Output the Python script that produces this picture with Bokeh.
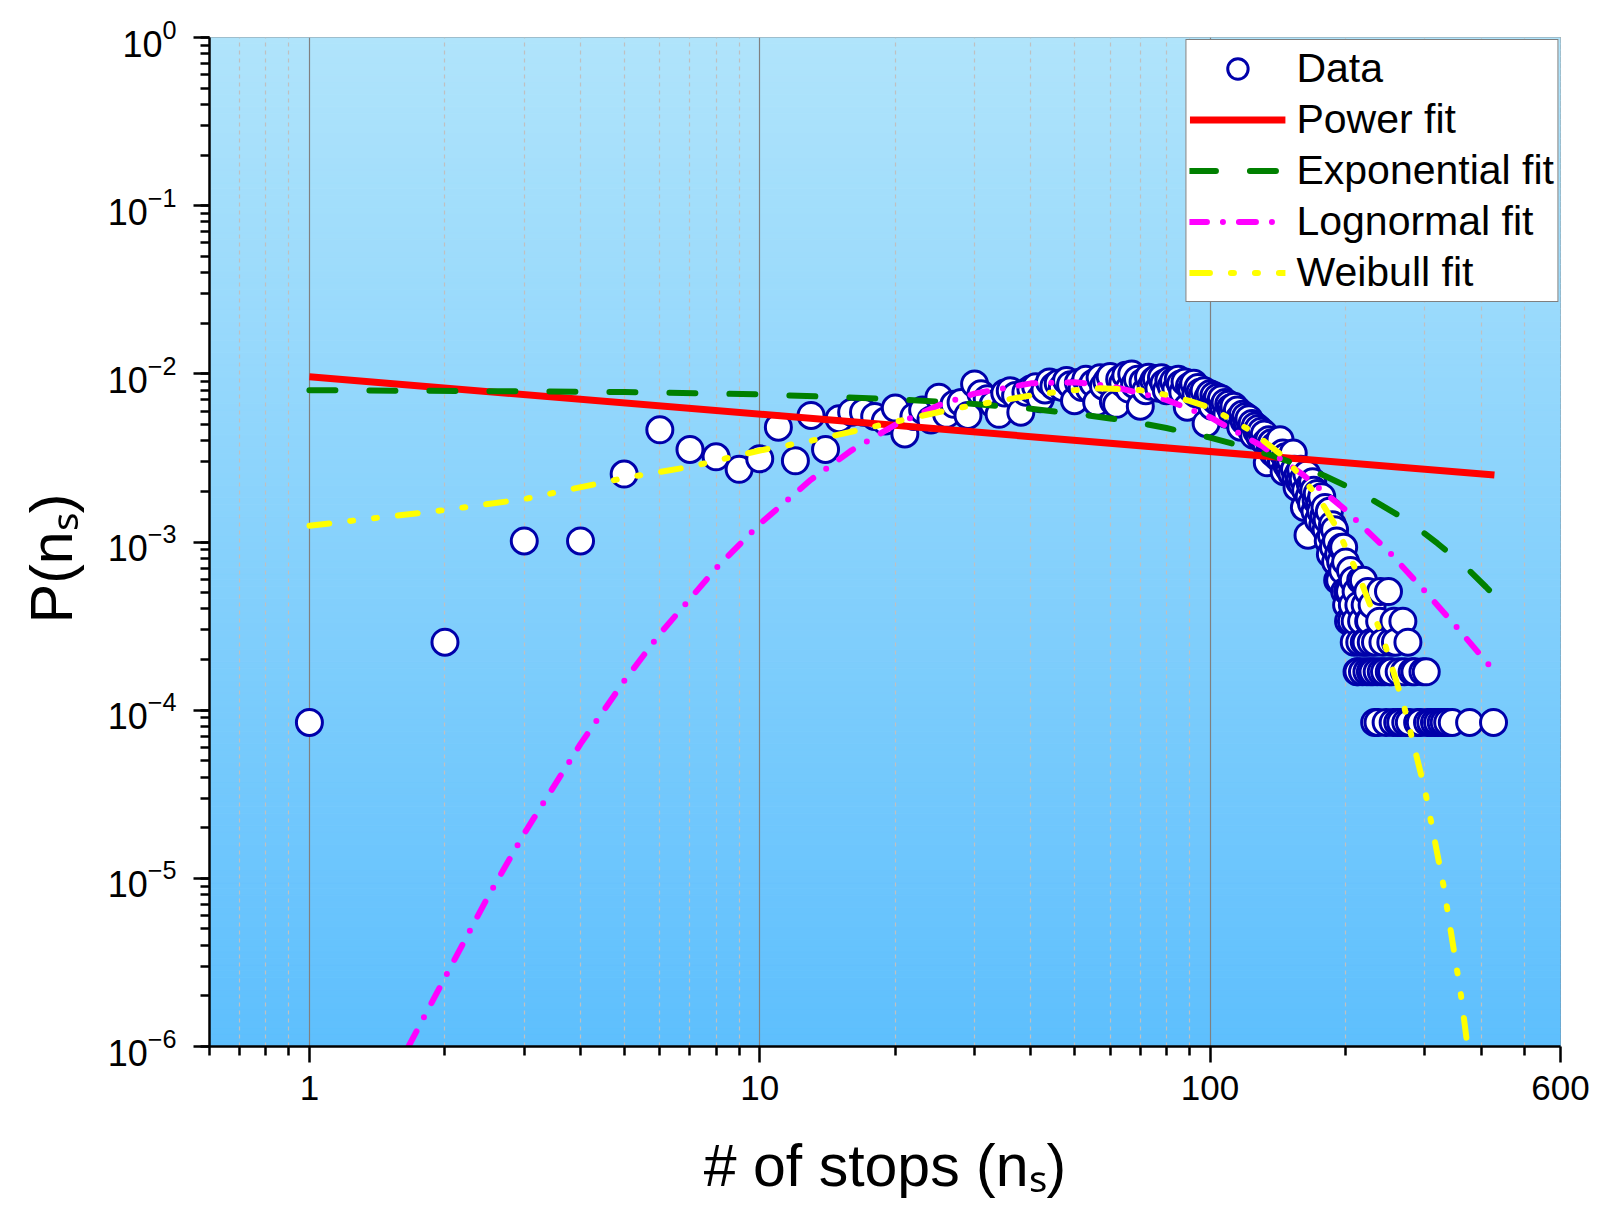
import numpy as np
from bokeh.plotting import figure
from bokeh.models import FixedTicker, LogTicker, Legend, BasicTickFormatter
from bokeh.embed import file_html
from bokeh.resources import INLINE

# ---------------- data ----------------
N_TOTAL = 11834  # one count = 8.45e-5

stops_head = list(range(1, 201))
counts_head = [
    1, 3, 12, 12, 30, 55, 42, 38, 32, 37,
    57, 36, 67, 42, 64, 70, 70, 66, 62, 74,
    52, 66, 72, 63, 86, 68, 78, 80, 67, 103,
    90, 84, 78, 68, 91, 94, 88, 70, 92, 96,
    99, 84, 95, 106, 100, 104, 98, 108, 102, 82,
    105, 98, 110, 96, 104, 80, 112, 100, 107, 114,
    81, 78, 110, 104, 116, 96, 118, 102, 110, 76,
    106, 94, 113, 100, 108, 111, 97, 112, 104, 94,
    108, 100, 107, 96, 110, 103, 92, 106, 75, 100,
    96, 104, 90, 98, 92, 88, 94, 60, 86, 90,
    76, 88, 82, 86, 78, 84, 76, 80, 68, 78,
    74, 70, 76, 66, 72, 64, 57, 68, 62, 66,
    60, 64, 56, 60, 51, 58, 54, 56, 50, 54,
    48, 52, 46, 35, 48, 44, 46, 40, 44, 42,
    38, 42, 48, 36, 40, 31, 38, 34, 36, 32,
    36, 30, 40, 32, 28, 25, 30, 27, 32, 26,
    28, 19, 24, 30, 13, 22, 26, 20, 27, 24,
    18, 21, 23, 16, 20, 18, 22, 15, 17, 19,
    14, 16, 12, 18, 10, 13, 15, 11, 14, 9,
    12, 7, 10, 7, 9, 11, 8, 11, 6, 9,
]
stops_tail = [201, 202, 203, 204, 205, 206, 207, 208, 209, 210,
              211, 212, 213, 214, 215, 216, 217, 218, 219, 220,
              221, 222, 223, 224, 225, 226, 227, 228, 229, 230,
              232, 233, 235, 236, 238, 239, 240, 242, 244, 246,
              249, 250, 252, 253, 255, 256, 258, 261, 263, 265,
              268, 270, 272, 275, 277, 281, 285, 289, 293, 297,
              302, 304, 309, 315, 320, 326, 331, 337, 345, 377,
              426]
counts_tail = [5, 6, 4, 6, 8, 4, 5, 7, 3, 4,
               6, 2, 2, 5, 3, 7, 4, 2, 7, 3,
               5, 3, 2, 6, 4, 4, 2, 3, 5, 2,
               1, 3, 2, 1, 4, 6, 2, 3, 2, 1,
               6, 2, 3, 2, 1, 4, 3, 1, 2, 1,
               4, 2, 1, 3, 1, 2, 2, 1, 1, 2,
               2, 1, 1, 1, 1, 1, 1, 1, 1, 1,
               1]

power_x = [1, 428]
power_y = [9.6e-3, 2.5e-3]

exp_x = [1, 5, 10, 20, 30, 40, 50, 60, 70, 80, 100, 120, 140, 160, 180,
         200, 230, 260, 290, 320, 350, 380, 410, 428]
exp_y = [8.0e-3, 7.8e-3, 7.55e-3, 7.07e-3, 6.62e-3, 6.2e-3, 5.8e-3, 5.43e-3,
         5.09e-3, 4.76e-3, 4.18e-3, 3.66e-3, 3.21e-3, 2.82e-3, 2.47e-3,
         2.16e-3, 1.77e-3, 1.46e-3, 1.2e-3, 9.8e-4, 8.05e-4, 6.6e-4, 5.4e-4, 4.8e-4]

logn_x = [1.66, 2, 2.5, 3, 4, 5, 6, 8, 10, 13, 16, 20, 25, 30, 40, 50, 60,
          80, 100, 130, 160, 200, 250, 300, 350, 428]
logn_y = [1.0e-6, 2.57e-6, 7.9e-6, 1.85e-5, 6.3e-5, 1.49e-4, 2.84e-4, 6.97e-4,
          1.28e-3, 2.35e-3, 3.51e-3, 4.98e-3, 6.51e-3, 7.63e-3, 8.78e-3, 8.9e-3,
          8.48e-3, 7.0e-3, 5.52e-3, 3.74e-3, 2.54e-3, 1.55e-3, 8.7e-4, 5.1e-4,
          3.2e-4, 1.7e-4]

weib_x = [1, 2, 3, 5, 7, 10, 13, 17, 22, 27, 35, 42, 50, 57, 70, 80, 90, 100,
          123, 146, 174, 191, 216, 243, 270, 300, 330, 360, 373]
weib_y = [1.25e-3, 1.55e-3, 1.8e-3, 2.4e-3, 2.8e-3, 3.5e-3, 4.0e-3, 4.7e-3,
          5.5e-3, 6.2e-3, 7.0e-3, 7.6e-3, 8.0e-3, 8.2e-3, 8.0e-3, 7.5e-3, 6.9e-3,
          6.3e-3, 4.6e-3, 3.2e-3, 1.85e-3, 1.22e-3, 5.9e-4, 2.6e-4, 1.04e-4,
          3.35e-5, 9.0e-6, 2.1e-6, 1.0e-6]

x_major = [1, 10, 100, 600]
x_minor = [0.6, 0.7, 0.8, 0.9, 2, 3, 4, 5, 6, 7, 8, 9,
           20, 30, 40, 50, 60, 70, 80, 90, 200, 300, 400, 500]
X_RANGE = (0.6, 600)
Y_RANGE = (1e-6, 1)

# ---------------- figure ----------------
FONT = "Liberation Sans"
p = figure(x_axis_type="log", y_axis_type="log", x_range=X_RANGE, y_range=Y_RANGE,
           frame_width=1351, frame_height=1009,
           min_border_left=209, min_border_top=37, min_border_right=32, min_border_bottom=170,
           output_backend="svg", toolbar_location=None)
p.background_fill_color = "white"
p.border_fill_color = "white"
p.outline_line_color = "#808080"
p.outline_line_width = 1

# gradient background (decoration)
n_strips = 160
edges = np.logspace(np.log10(Y_RANGE[0]), np.log10(Y_RANGE[1]), n_strips + 1)
top_c = np.array([176, 228, 251])
bot_c = np.array([94, 191, 253])
tt = (np.arange(n_strips) + 0.5) / n_strips
cols = ["#%02x%02x%02x" % tuple(int(round(v)) for v in (bot_c + (top_c - bot_c) * t)) for t in tt]
p.quad(left=X_RANGE[0], right=X_RANGE[1], bottom=edges[:-1], top=edges[1:],
       fill_color=cols, line_color=cols, line_width=1, level="image")

# data
xs = stops_head + stops_tail
ps = [c / N_TOTAL for c in counts_head + counts_tail]
r_data = p.scatter(xs, ps, marker="circle", size=26, fill_color="white",
                   line_color="#0000AA", line_width=3)

r_pow = p.line(power_x, power_y, line_color="#FF0000", line_width=7)
r_exp = p.line(exp_x, exp_y, line_color="#008000", line_width=6,
               line_dash="26 34", line_cap="round")
r_logn = p.line(logn_x, logn_y, line_color="#FF00FF", line_width=6,
                line_dash="17 16 0 16", line_cap="round")
r_weib = p.line(weib_x, weib_y, line_color="#FFFF00", line_width=6,
                line_dash="20 21 3 21 3 21", line_cap="round")

# axes
xt = FixedTicker(ticks=x_major, minor_ticks=x_minor)
p.xaxis.ticker = xt
p.xgrid.ticker = xt
p.xaxis.formatter = BasicTickFormatter(use_scientific=False)
p.xaxis.major_label_overrides = {1: "1", 10: "10", 100: "100", 600: "600"}
p.yaxis.ticker = LogTicker(num_minor_ticks=10)

for ax in (p.xaxis[0], p.yaxis[0]):
    ax.axis_line_width = 2.5
    ax.axis_line_color = "black"
    ax.major_tick_line_width = 2.5
    ax.minor_tick_line_width = 2.5
    ax.major_tick_line_color = "black"
    ax.minor_tick_line_color = "black"
    ax.major_tick_in = 0
    ax.major_tick_out = 16
    ax.minor_tick_in = 0
    ax.minor_tick_out = 9
    ax.major_label_text_font = FONT
    ax.major_label_text_color = "black"
    ax.axis_label_text_font = FONT
    ax.axis_label_text_font_size = "59px"
    ax.axis_label_text_font_style = "normal"
    ax.axis_label_text_color = "black"

p.xaxis.major_label_text_font_size = "35px"
p.yaxis.major_label_text_font_size = "36px"
p.xaxis.axis_label = "# of stops (nₛ)"
p.yaxis.axis_label = "P(nₛ)  "
p.xaxis.major_label_standoff = 13
p.yaxis.major_label_standoff = 17
p.xaxis.axis_label_standoff = 30
p.yaxis.axis_label_standoff = 20

p.xgrid.grid_line_color = "#808080"
p.xgrid.grid_line_width = 1.2
p.xgrid.minor_grid_line_color = "#c0c0c0"
p.xgrid.minor_grid_line_width = 1.2
p.xgrid.minor_grid_line_dash = "4 4"
p.ygrid.visible = False

legend = Legend(items=[("Data", [r_data]), ("Power fit", [r_pow]),
                       ("Exponential fit", [r_exp]), ("Lognormal fit", [r_logn]),
                       ("Weibull fit", [r_weib])],
                location="top_right", margin=2, padding=3, spacing=0,
                glyph_width=96, glyph_height=51, label_height=51, label_standoff=11,
                label_text_font=FONT, label_text_font_size="41px",
                label_text_color="black",
                border_line_color="black", border_line_width=1.5,
                background_fill_color="white", background_fill_alpha=1.0)
p.add_layout(legend)

open("out.html", "w").write(file_html(p, INLINE))
